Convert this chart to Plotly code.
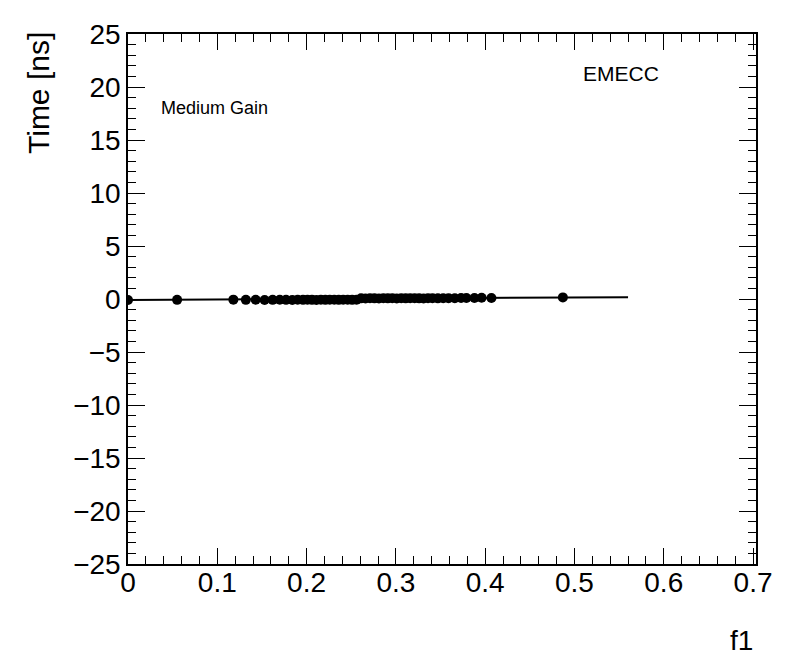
import plotly.graph_objects as go

f1_values = [0.0, 0.055, 0.118, 0.132, 0.143, 0.153, 0.162, 0.170, 0.177, 0.184,
             0.190, 0.196, 0.201, 0.206, 0.211, 0.216, 0.221, 0.226, 0.231, 0.236,
             0.241, 0.246, 0.251, 0.256, 0.261, 0.266, 0.271, 0.276, 0.281, 0.286,
             0.291, 0.296, 0.301, 0.306, 0.311, 0.316, 0.321, 0.326, 0.331, 0.336,
             0.341, 0.347, 0.353, 0.359, 0.366, 0.373, 0.379, 0.388, 0.396, 0.407,
             0.487]
time_values = [-0.10, -0.08, -0.06, -0.08, -0.07, -0.09, -0.08, -0.07, -0.08, -0.09,
               -0.07, -0.08, -0.06, -0.08, -0.09, -0.07, -0.08, -0.06, -0.07, -0.08,
               -0.07, -0.06, -0.08, -0.07, 0.06, 0.05, 0.07, 0.06, 0.05, 0.07,
               0.06, 0.08, 0.05, 0.07, 0.06, 0.08, 0.07, 0.06, 0.05, 0.07,
               0.08, 0.06, 0.07, 0.08, 0.07, 0.09, 0.10, 0.09, 0.11, 0.10,
               0.15]
fit_x = [0.0, 0.56]
fit_y = [-0.09, 0.17]

FONT = "Liberation Sans, Arial, sans-serif"

fig = go.Figure()
fig.add_trace(go.Scatter(x=fit_x, y=fit_y, mode="lines",
                         line=dict(color="black", width=2), hoverinfo="skip"))
fig.add_trace(go.Scatter(x=f1_values, y=time_values, mode="markers",
                         marker=dict(color="black", size=10, symbol="circle")))

axis_common = dict(showline=True, linecolor="black", linewidth=1.5, mirror="ticks",
                   ticks="inside", tickcolor="black", tickwidth=1.2, showgrid=False,
                   zeroline=False, automargin=False,
                   tickfont=dict(family=FONT, size=28, color="black"))

fig.update_xaxes(range=[0, 0.7033], dtick=0.1, tick0=0, ticklen=16,
                 ticklabelstandoff=-7,
                 minor=dict(ticks="inside", ticklen=8, dtick=0.02, tickcolor="black", tickwidth=1.2),
                 **axis_common)
fig.update_yaxes(range=[-25, 25], dtick=5, tick0=0, ticklen=17,
                 minor=dict(ticks="inside", ticklen=8, dtick=1, tickcolor="black", tickwidth=1.2),
                 **axis_common)

# page body adds an 8px offset, so the figure is sized 8px smaller
W, H = 788, 664
L, R, T, B = 120, 40, 26, 108
PW, PH = W - L - R, H - T - B

fig.update_layout(
    width=W, height=H, showlegend=False,
    plot_bgcolor="white", paper_bgcolor="white",
    margin=dict(l=L, r=R, t=T, b=B),
    font=dict(family=FONT, color="black"),
    annotations=[
        dict(text="Time [ns]", textangle=-90, x=-(128 - 38) / PW, y=1.0 + 4 / PH,
             xref="paper", yref="paper", showarrow=False, font=dict(size=30),
             xanchor="center", yanchor="top"),
        dict(text="f1", x=1.0 - 1 / PW, y=-76 / PH, xref="paper", yref="paper", showarrow=False,
             font=dict(size=28), xanchor="right", yanchor="middle"),
        dict(text="Medium Gain", x=(159 - 128) / PW, y=1 - (108 - 34) / PH, xref="paper", yref="paper",
             showarrow=False, font=dict(size=18), xanchor="left", yanchor="middle"),
        dict(text="EMECC", x=(581 - 128) / PW, y=1 - (73 - 34) / PH, xref="paper", yref="paper",
             showarrow=False, font=dict(size=21), xanchor="left", yanchor="middle"),
    ],
)

fig.write_html("out.html")
